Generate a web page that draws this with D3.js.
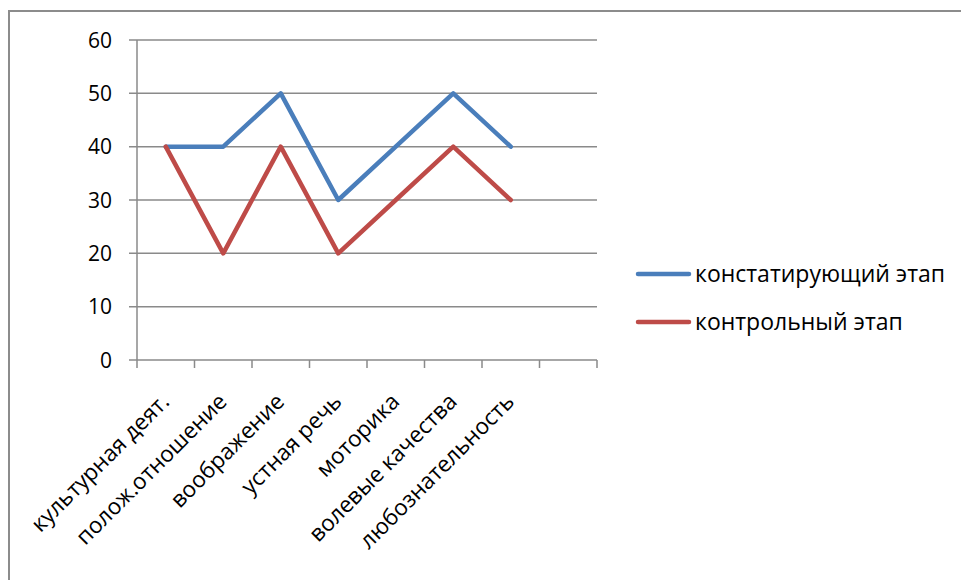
<!DOCTYPE html>
<html><head><meta charset="utf-8">
<script src="https://cdn.jsdelivr.net/npm/d3@7"></script>
<style>body{margin:0;background:#fff}svg{display:block}text{font-family:"Open Sans",sans-serif;fill:#000}</style>
</head><body><svg id="c" width="961" height="580"></svg>
<script>
const categories = ["культурная деят.","полож.отношение","воображение","устная речь","моторика","волевые качества","любознательность",""];
const seriesNames = ["констатирующий этап","контрольный этап"];
const constat = [40,40,50,30,40,50,40];
const control = [40,20,40,20,30,40,30];
const yTicks = [0,10,20,30,40,50,60];
const colors = ["#4A7EBB","#BE4B48"];

const svg = d3.select("#c");
svg.append("rect").attr("x",9).attr("y",11).attr("width",970).attr("height",600)
  .attr("fill","none").attr("stroke","#8c8c8c").attr("stroke-width",2);

const L=137,R=597,T=40,B=360;
const x = d3.scaleBand().domain(categories.map((d,i)=>i)).range([L,R]).padding(0);
const y = d3.scaleLinear().domain([0,60]).range([B,T]);

svg.append("g").selectAll("line").data(yTicks).join("line")
  .attr("x1",L-8).attr("x2",R).attr("y1",d=>y(d)).attr("y2",d=>y(d))
  .attr("stroke","#8a8a8a").attr("stroke-width",1.5);
svg.append("line").attr("x1",L).attr("x2",L).attr("y1",T).attr("y2",B).attr("stroke","#8a8a8a").attr("stroke-width",1.5);
const tickX = d3.range(categories.length+1).map(i=>L+i*x.bandwidth());
svg.append("g").selectAll("line").data(tickX).join("line")
  .attr("x1",d=>d).attr("x2",d=>d).attr("y1",B).attr("y2",B+8)
  .attr("stroke","#8a8a8a").attr("stroke-width",1.5);
svg.append("g").selectAll("text").data(yTicks).join("text")
  .attr("x",112).attr("y",d=>y(d)).attr("dy","0.36em").attr("text-anchor","end")
  .attr("font-size",21).text(d=>d);
svg.append("g").selectAll("text").data(categories.slice(0,7)).join("text")
  .attr("text-anchor","end").attr("font-size",22.5)
  .attr("transform",(d,i)=>`translate(${x(i)+x.bandwidth()/2+5},${403}) rotate(-45)`)
  .text(d=>d);

const line = d3.line().x((d,i)=>x(i)+x.bandwidth()/2).y(d=>y(d));
[constat,control].forEach((s,k)=>{
  svg.append("path").datum(s).attr("d",line).attr("fill","none")
    .attr("stroke",colors[k]).attr("stroke-width",4.5).attr("stroke-linejoin","round").attr("stroke-linecap","round");
});
seriesNames.forEach((n,k)=>{
  const ly = 274 + k*48;
  svg.append("line").attr("x1",638).attr("x2",689).attr("y1",ly).attr("y2",ly)
    .attr("stroke",colors[k]).attr("stroke-width",4.5).attr("stroke-linecap","round");
  svg.append("text").attr("x",695).attr("y",ly).attr("dy","0.36em").attr("font-size",23).text(n);
});
</script></body></html>
